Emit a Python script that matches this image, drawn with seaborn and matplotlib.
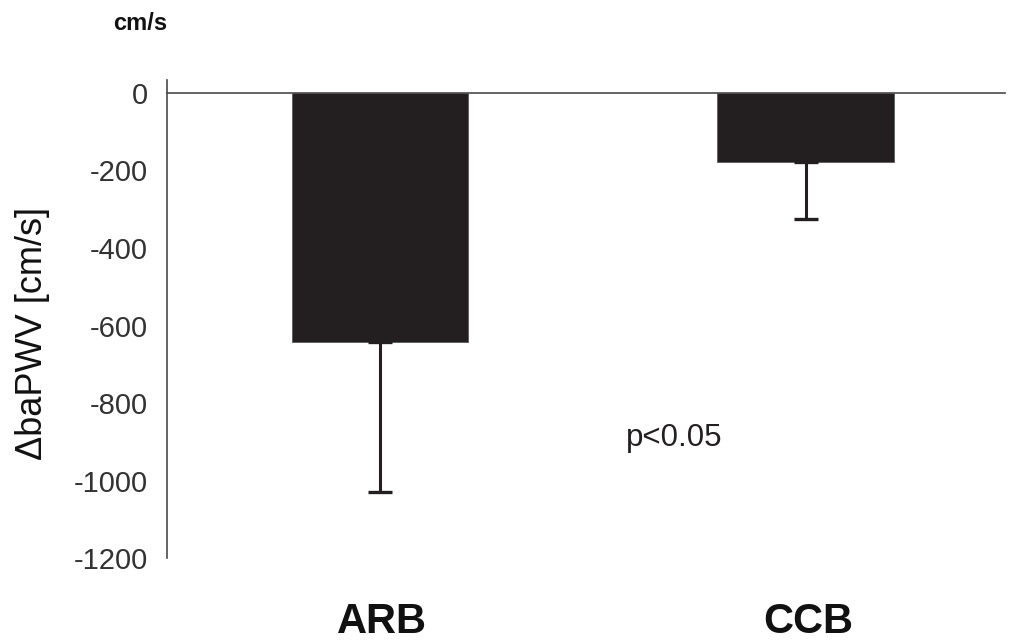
import matplotlib
matplotlib.use("Agg")
import matplotlib.pyplot as plt
import matplotlib.transforms as mtransforms
import pandas as pd
import seaborn as sns

# Change in brachial-ankle pulse wave velocity by treatment group
groups = ["ARB", "CCB"]
mean_change = [-643, -178]
sd_change = [387, 147]
y_ticks = [0, -200, -400, -600, -800, -1000, -1200]
y_tick_labels = ["0", "-200", "-400", "-600", "-800", "-1000", "-1200"]

sns.set_style("white")
plt.rcParams["font.family"] = ["Liberation Sans", "DejaVu Sans"]

bar_color = "#231f20"
axis_color = "#4a4a4a"

fig = plt.figure(figsize=(10.11, 6.42), dpi=100)
ax = fig.add_axes([0.1652, 0.1308, 0.8288, 0.7446])

df = pd.DataFrame({"group": groups, "change": mean_change})
sns.barplot(data=df, x="group", y="change", color=bar_color, width=0.415,
            saturation=1, errorbar=None, ax=ax, edgecolor="#5a5a5a", linewidth=0.6)

# one-sided SD whiskers below each bar
ax.errorbar(range(len(groups)), mean_change, yerr=[sd_change, [0] * len(groups)],
            fmt="none", ecolor=bar_color, elinewidth=2.2, capsize=8.6, capthick=2.4,
            zorder=3)

ax.set_xlim(-0.5, 1.468)
ax.set_ylim(-1200, 33.5)

# zero baseline with a small divider tick between the groups
ax.spines["bottom"].set_position(("data", 0))
ax.spines["top"].set_visible(False)
ax.spines["right"].set_visible(False)
for side in ("left", "bottom"):
    ax.spines[side].set_color(axis_color)
    ax.spines[side].set_linewidth(1.2)
ax.spines["left"].set_bounds(-1200, 33.5)

ax.set_xticks([0.5])
ax.set_xticklabels([])
ax.tick_params(axis="x", direction="in", length=8.6, width=1.2, color=axis_color)

ax.set_yticks(y_ticks)
ax.set_yticklabels(y_tick_labels, fontsize=21, color="#333333")
ax.tick_params(axis="y", direction="in", length=8, width=1.2, color=axis_color, pad=14)

ax.set_xlabel("")
ax.set_ylabel("ΔbaPWV [cm/s]", fontsize=26, color="#111111")
ax.yaxis.set_label_coords(-0.14, 0.47)

# group names under the plot
trans = mtransforms.blended_transform_factory(ax.transData, ax.transAxes)
for i, g in enumerate(groups):
    ax.text(i + 0.005, -0.134, g, transform=trans, ha="center", va="center",
            fontsize=30, fontweight="bold", color="#111111")

ax.text(0.692, -890, "p<0.05", ha="center", va="center", fontsize=22.5, color="#231f20")

fig.text(140 / 1011, 1 - 24 / 642, "cm/s", ha="center", va="center",
         fontsize=17, fontweight="bold", color="#111111")

fig.savefig("out.png", dpi=100)
